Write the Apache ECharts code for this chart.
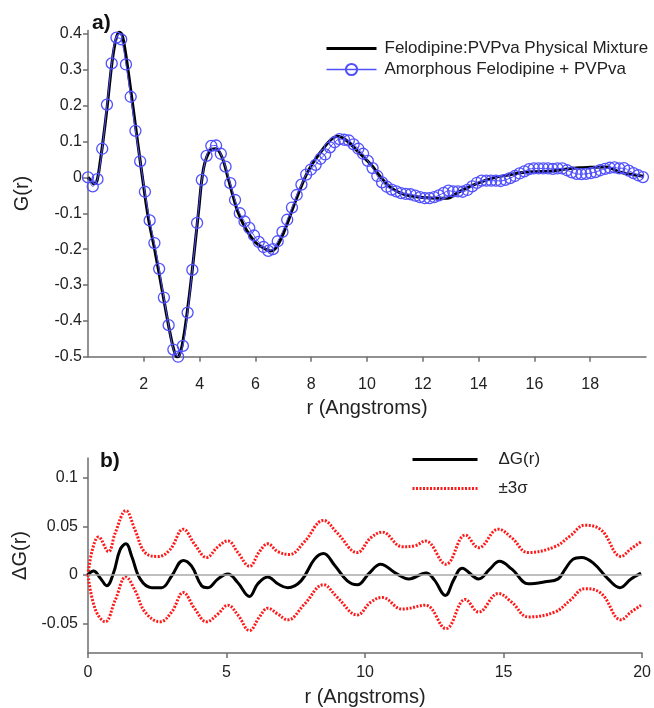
<!DOCTYPE html>
<html>
<head>
<meta charset="utf-8">
<script src="https://cdn.jsdelivr.net/npm/echarts@6/dist/echarts.min.js"></script>
<style>html,body{margin:0;padding:0;background:#fff;}#c{width:654px;height:708px;}</style>
</head>
<body>
<div id="c"></div>
<script>
// ---- Panel a) : G(r) ----
const blackR = [0,0.1,0.22,0.32,0.44,0.56,0.68,0.86,1.0,1.12,1.22,1.34,1.46,1.7,1.94,2.17,2.41,2.65,2.89,3.07,3.2,3.37,3.6,3.78,3.96,4.14,4.38,4.58,4.8,5.03,5.21,5.39,5.69,5.99,6.29,6.53,6.75,7.06,7.36,7.66,7.84,8.1,8.43,8.7,8.95,9.27,9.75,10.15,10.5,10.8,11.18,11.6,12.0,12.5,12.9,13.2,13.5,14.0,14.6,15.0,15.5,16.0,16.65,17.2,17.6,18.0,18.57,18.8,19.05,19.5,19.9];
const blackG = [0,-0.008,-0.018,-0.01,0.045,0.115,0.192,0.32,0.385,0.405,0.398,0.35,0.285,0.145,0.006,-0.116,-0.209,-0.311,-0.414,-0.479,-0.502,-0.47,-0.349,-0.228,-0.097,0.024,0.076,0.08,0.057,-0.004,-0.055,-0.1,-0.148,-0.18,-0.197,-0.205,-0.195,-0.145,-0.082,-0.022,0.01,0.045,0.08,0.105,0.115,0.103,0.066,0.035,0.0,-0.025,-0.043,-0.052,-0.056,-0.058,-0.058,-0.045,-0.032,-0.015,0.0,0.006,0.013,0.016,0.018,0.024,0.027,0.028,0.029,0.024,0.015,0.008,0.003];

const blueR = [0,0.17,0.34,0.51,0.68,0.85,1.02,1.19,1.36,1.53,1.70,1.87,2.04,2.21,2.38,2.55,2.72,2.89,3.06,3.23,3.40,3.57,3.74,3.91,4.08,4.25,4.42,4.59,4.76,4.93,5.10,5.27,5.44,5.61,5.78,5.95,6.12,6.29,6.46,6.63,6.80,6.97,7.14,7.31,7.48,7.65,7.82,7.99,8.16,8.33,8.50,8.67,8.84,9.01,9.18,9.35,9.52,9.69,9.86,10.03,10.20,10.37,10.54,10.71,10.88,11.05,11.22,11.39,11.56,11.73,11.90,12.07,12.24,12.41,12.58,12.75,12.92,13.09,13.26,13.43,13.60,13.77,13.94,14.11,14.28,14.45,14.62,14.79,14.96,15.13,15.30,15.47,15.64,15.81,15.98,16.15,16.32,16.49,16.66,16.83,17.00,17.17,17.34,17.51,17.68,17.85,18.02,18.19,18.36,18.53,18.70,18.87,19.04,19.21,19.38,19.55,19.72,19.89];
const blueG = [0,-0.025,-0.005,0.08,0.203,0.318,0.39,0.385,0.315,0.225,
0.13,0.045,-0.04,-0.12,-0.183,-0.255,-0.335,-0.412,-0.48,-0.5,
-0.47,-0.377,-0.258,-0.127,-0.007,0.06,0.088,0.089,0.066,0.03,
-0.016,-0.063,-0.1,-0.123,-0.141,-0.162,-0.18,-0.194,-0.205,-0.2,
-0.178,-0.152,-0.118,-0.084,-0.049,-0.02,0.008,0.022,0.035,0.052,
0.064,0.084,0.098,0.107,0.105,0.103,0.092,0.08,0.066,0.046,
0.026,0.004,-0.014,-0.026,-0.034,-0.039,-0.044,-0.046,-0.047,-0.051,
-0.055,-0.058,-0.058,-0.055,-0.05,-0.043,-0.037,-0.039,-0.039,-0.04,
-0.035,-0.025,-0.015,-0.009,-0.009,-0.009,-0.009,-0.01,-0.007,-0.002,
0.004,0.011,0.017,0.023,0.025,0.025,0.025,0.025,0.024,0.025,
0.025,0.02,0.014,0.01,0.009,0.01,0.012,0.015,0.02,0.024,
0.027,0.028,0.025,0.026,0.019,0.012,0.006,0.001];

const topXTicks = [2,4,6,8,10,12,14,16,18];
const topYTicks = [-0.5,-0.4,-0.3,-0.2,-0.1,0,0.1,0.2,0.3,0.4];

// ---- Panel b) : ΔG(r) and ±3σ ----
const dgR = [0,0.2,0.44,0.68,0.92,1.16,1.37,1.58,1.88,2.3,2.66,3.02,3.44,3.74,4.1,4.33,4.69,5.05,5.41,5.83,6.13,6.49,6.85,7.21,7.69,8.17,8.5,8.9,9.36,9.72,10.15,10.56,11.1,11.58,12.2,12.5,12.9,13.2,13.5,14.1,14.5,14.85,15.3,15.9,16.5,16.97,17.2,17.5,17.81,18.25,18.77,19.2,19.6,19.96];
const dgV = [0,0.004,-0.003,-0.011,0.002,0.026,0.032,0.019,-0.004,-0.013,-0.013,-0.001,0.015,0.009,-0.011,-0.013,-0.004,0.001,-0.008,-0.022,-0.009,-0.002,-0.009,-0.013,-0.006,0.016,0.022,0.01,-0.006,-0.01,0.002,0.011,0.002,-0.004,0.002,-0.005,-0.021,-0.005,0.007,-0.004,0.006,0.014,0.006,-0.009,-0.007,-0.004,0.005,0.016,0.018,0.012,-0.004,-0.013,-0.004,0.002];

const upR = [0,0.15,0.38,0.74,0.98,1.37,1.7,2.06,2.54,2.96,3.44,3.86,4.28,4.69,5.05,5.41,5.83,6.19,6.49,6.85,7.27,7.81,8.5,9.0,9.72,10.2,10.62,11.34,11.8,12.18,12.92,13.62,14.1,14.81,15.3,15.89,16.85,17.4,17.93,18.53,19.24,19.6,19.96];
const upV = [0,0.025,0.039,0.024,0.043,0.066,0.046,0.023,0.019,0.026,0.047,0.031,0.018,0.029,0.035,0.023,0.009,0.024,0.032,0.024,0.021,0.034,0.056,0.043,0.023,0.038,0.044,0.029,0.03,0.035,0.011,0.041,0.028,0.047,0.038,0.023,0.029,0.04,0.051,0.046,0.019,0.027,0.034];

const loR = [0,0.26,0.62,0.98,1.37,1.7,2.06,2.6,3.02,3.44,3.86,4.28,4.69,5.05,5.41,5.83,6.19,6.49,6.85,7.21,7.81,8.5,9.0,9.72,10.2,10.62,11.34,12.18,12.92,13.62,14.1,14.81,15.3,15.89,16.85,17.4,17.93,18.53,19.24,19.6,19.96];
const loV = [0,-0.035,-0.048,-0.026,-0.002,-0.016,-0.038,-0.048,-0.038,-0.018,-0.035,-0.048,-0.04,-0.031,-0.041,-0.057,-0.043,-0.034,-0.04,-0.046,-0.03,-0.01,-0.023,-0.041,-0.028,-0.023,-0.035,-0.031,-0.055,-0.025,-0.038,-0.019,-0.028,-0.043,-0.038,-0.026,-0.014,-0.019,-0.046,-0.038,-0.031];

const botXTicks = [0,5,10,15,20];
const botYTicks = [-0.05,0,0.05,0.1];

const pairs = (xs, ys) => xs.map((x, i) => [x, ys[i]]);

const FONT = "'Liberation Sans', Arial, sans-serif";
const AX = '#6e6e6e';
const TXT = '#222';
const BLUE = '#5050ff';
const RED = '#ff1a1a';

function xAxisCfg(grid, ticks, margin, nameGap) {
  return {
    type: 'value', gridIndex: grid, min: 0, max: 20,
    name: 'r (Angstroms)', nameLocation: 'middle', nameGap: nameGap,
    nameTextStyle: { fontFamily: FONT, fontSize: 20, color: TXT },
    axisLine: { show: true, onZero: false, lineStyle: { color: AX, width: 1.5 } },
    axisTick: { show: true, inside: false, length: 5, customValues: ticks, lineStyle: { color: AX, width: 1.5 } },
    axisLabel: { customValues: ticks, margin: margin, fontFamily: FONT, fontSize: 16, color: TXT },
    splitLine: { show: false }
  };
}
function yAxisCfg(grid, min, max, ticks, name, nameGap, margin) {
  return {
    type: 'value', gridIndex: grid, min: min, max: max,
    name: name, nameLocation: 'middle', nameGap: nameGap, nameRotate: 90,
    nameTextStyle: { fontFamily: FONT, fontSize: 20, color: TXT },
    axisLine: { show: true, onZero: false, lineStyle: { color: AX, width: 1.5 } },
    axisTick: { show: true, inside: false, length: 5, customValues: ticks, lineStyle: { color: AX, width: 1.5 } },
    axisLabel: { customValues: ticks, margin: margin, fontFamily: FONT, fontSize: 16, color: TXT,
      formatter: v => String(Math.round(v * 1000) / 1000) },
    splitLine: { show: false }
  };
}

const hideSym = { color: 'rgba(0,0,0,0)', borderColor: 'rgba(0,0,0,0)', borderWidth: 0, opacity: 0 };

const chart = echarts.init(document.getElementById('c'), null, { renderer: 'canvas' });
chart.setOption({
  animation: false,
  backgroundColor: '#fff',
  grid: [
    { left: 88, right: 8, top: 30.4, height: 326.3 },
    { left: 88, right: 10, top: 458, height: 196.3 }
  ],
  xAxis: [ xAxisCfg(0, topXTicks, 20, 42), xAxisCfg(1, botXTicks, 12, 34) ],
  yAxis: [
    yAxisCfg(0, -0.5, 0.41, topYTicks, 'G(r)', 56, 6),
    yAxisCfg(1, -0.08, 0.12, botYTicks, 'ΔG(r)', 52, 10)
  ],
  legend: [
    {
      left: 325, top: 40, orient: 'vertical', padding: 0, itemGap: 4,
      itemWidth: 50, itemHeight: 14,
      textStyle: { fontFamily: FONT, fontSize: 17, color: TXT, padding: [0, 0, 0, 3] },
      data: [
        { name: 'Felodipine:PVPva Physical Mixture', itemStyle: hideSym, lineStyle: { width: 3 } },
        { name: 'Amorphous Felodipine + PVPva', lineStyle: { width: 1.3 } }
      ]
    },
    {
      left: 411, top: 451, orient: 'vertical', padding: 0, itemGap: 12,
      itemWidth: 65, itemHeight: 14,
      textStyle: { fontFamily: FONT, fontSize: 17, color: TXT, padding: [0, 0, 0, 16] },
      data: [
        { name: 'ΔG(r)', itemStyle: hideSym, lineStyle: { width: 3 } },
        { name: '±3σ', itemStyle: hideSym, lineStyle: { width: 3 } }
      ]
    }
  ],
  graphic: [
    { type: 'text', left: 92, top: 13, style: { text: 'a)', font: "bold 21px 'Liberation Sans', Arial, sans-serif", fill: '#111' } },
    { type: 'text', left: 100, top: 451, style: { text: 'b)', font: "bold 21px 'Liberation Sans', Arial, sans-serif", fill: '#111' } }
  ],
  series: [
    {
      name: 'Felodipine:PVPva Physical Mixture', type: 'line', xAxisIndex: 0, yAxisIndex: 0,
      data: pairs(blackR, blackG), smooth: 0.35, symbol: 'none',
      lineStyle: { color: '#000', width: 3 }, itemStyle: { color: '#000' }, z: 2
    },
    {
      name: 'Amorphous Felodipine + PVPva', type: 'line', xAxisIndex: 0, yAxisIndex: 0,
      data: pairs(blueR, blueG), smooth: 0.3, symbol: 'circle', symbolSize: 11, showSymbol: true,
      lineStyle: { color: BLUE, width: 1 },
      itemStyle: { color: 'rgba(255,255,255,0)', borderColor: BLUE, borderWidth: 1.3 }, z: 3
    },
    {
      name: 'ΔG(r)', type: 'line', xAxisIndex: 1, yAxisIndex: 1,
      data: pairs(dgR, dgV), smooth: 0.4, symbol: 'none',
      lineStyle: { color: '#000', width: 3 }, itemStyle: { color: '#000' }, z: 3,
      markLine: {
        silent: true, symbol: 'none', label: { show: false },
        lineStyle: { color: '#aaaaaa', width: 1.5, type: 'solid' },
        data: [{ yAxis: 0 }]
      }
    },
    {
      name: '±3σ', type: 'line', xAxisIndex: 1, yAxisIndex: 1,
      data: pairs(upR, upV), smooth: 0.4, symbol: 'none',
      lineStyle: { color: RED, width: 3, type: [2, 1.5] }, itemStyle: { color: RED }, z: 2
    },
    {
      name: '±3σ', type: 'line', xAxisIndex: 1, yAxisIndex: 1,
      data: pairs(loR, loV), smooth: 0.4, symbol: 'none',
      lineStyle: { color: RED, width: 3, type: [2, 1.5] }, itemStyle: { color: RED }, z: 2
    }
  ]
});
</script>
</body>
</html>
